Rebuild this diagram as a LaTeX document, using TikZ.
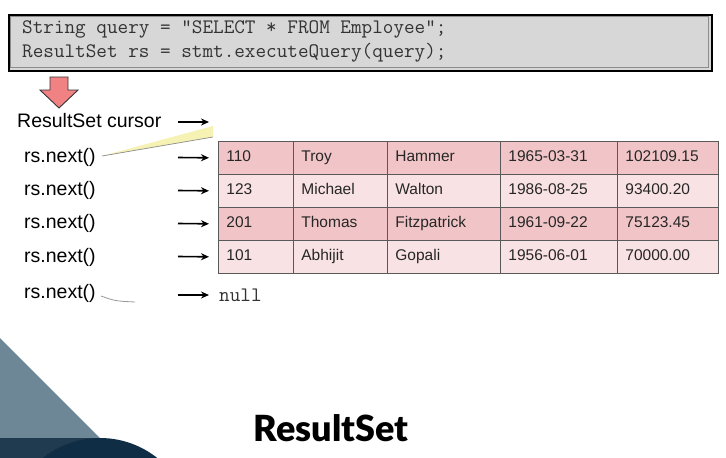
\documentclass[tikz,border=0pt]{standalone}
\usepackage{fontspec}
\setmainfont{Liberation Sans}
\newfontfamily\titlefont{Lato Black}
\usetikzlibrary{arrows.meta}
\definecolor{codegray}{RGB}{214,215,214}
\definecolor{rowA}{RGB}{241,197,199}
\definecolor{rowB}{RGB}{249,226,227}
\definecolor{redarrow}{RGB}{240,130,132}
\definecolor{slate}{RGB}{110,135,150}
\definecolor{navyband}{RGB}{32,58,80}
\definecolor{navy}{RGB}{16,45,70}
\definecolor{wedge}{RGB}{246,242,180}
\tikzset{
  lbl/.style={font=\fontsize{19.5}{22}\selectfont, inner sep=0pt, anchor=west},
  codetxt/.style={font=\ttfamily\fontsize{20.6}{22}\selectfont, inner sep=0pt, anchor=west, text=black!80},
  cell/.style={draw=black!65, line width=0.8pt, inner xsep=8pt, inner ysep=0pt,
    minimum height=33pt, anchor=north west, align=left, text height=11pt, text depth=3.5pt,
    font=\fontsize{15.5}{18}\selectfont, text=black!85},
  arr/.style={line width=1.6pt, -{Stealth[length=8pt,width=7pt]}},
}
\begin{document}
\begin{tikzpicture}[x=1pt,y=-1pt]
\useasboundingbox (0,0) rectangle (726,458);
\fill[white] (0,0) rectangle (726,458);
% background decoration
\fill[slate] (0,338) -- (100,438) -- (0,438) -- cycle;
\fill[navyband] (0,438) rectangle (100,458);
\begin{scope}
\clip (0,0) rectangle (726,458);
\fill[navy] (100,530) circle[radius=92];
\end{scope}
% code box
\node[draw=black, line width=2.2pt, fill=codegray, minimum width=703pt, minimum height=56pt,
  anchor=north west, inner sep=0pt] (codebox) at (8,14) {};
\draw[black!45, line width=0.6pt] (10.5,16.5) rectangle (708.5,67.5);
\node[codetxt] (q1) at (22,29) {String query = "SELECT * FROM Employee";};
\node[codetxt] (q2) at (22,53) {ResultSet rs = stmt.executeQuery(query);};
% red down arrow
\draw[fill=redarrow, draw=black!80, line width=0.9pt, line join=miter]
  (50,77) -- (68,77) -- (68,90) -- (78,90) -- (59,108) -- (40,90) -- (50,90) -- cycle;
% labels
\node[lbl] (cur) at (17,121) {ResultSet cursor};
\node[lbl] (n1) at (24,157) {rs.next()};
\node[lbl] (n2) at (24,190) {rs.next()};
\node[lbl] (n3) at (24,223) {rs.next()};
\node[lbl] (n4) at (24,257) {rs.next()};
\node[lbl] (n5) at (24,293) {rs.next()};
% callout wedge
\fill[wedge] (102,156) -- (213,126) -- (213,137) -- cycle;
\draw[black!45, line width=0.7pt] (102,156) -- (213,137);
\draw[black!40, line width=0.8pt] (101,296) .. controls (115,301) .. (135,302);
% table
\foreach \r/\ya/\fc/\ta/\tb/\tc/\td/\te in {
  1/141/rowA/110/Troy/Hammer/1965-03-31/102109.15,
  2/174/rowB/123/Michael/Walton/1986-08-25/93400.20,
  3/207/rowA/201/Thomas/Fitzpatrick/1961-09-22/75123.45,
  4/240/rowB/101/Abhijit/Gopali/1956-06-01/70000.00}{
  \node[cell, fill=\fc, text width=59pt] (c\r-1) at (218,\ya) {\ta};
  \node[cell, fill=\fc, text width=78pt] (c\r-2) at (293,\ya) {\tb};
  \node[cell, fill=\fc, text width=97pt] (c\r-3) at (387,\ya) {\tc};
  \node[cell, fill=\fc, text width=101pt] (c\r-4) at (500,\ya) {\td};
  \node[cell, fill=\fc, text width=85pt] (c\r-5) at (617,\ya) {\te};
}
% null
\node[codetxt] (null) at (219,295) {null};
% arrows
\coordinate (s0) at (178,122);
\coordinate (e0) at (209,122);
\draw[arr] (s0) -- (e0);
\coordinate (s1) at (178,157.5);
\coordinate (s2) at (178,190.5);
\coordinate (s3) at (178,223.5);
\coordinate (s4) at (178,256.5);
\draw[arr, shorten >=9pt] (s1) -- (c1-1.west);
\draw[arr, shorten >=9pt] (s2) -- (c2-1.west);
\draw[arr, shorten >=9pt] (s3) -- (c3-1.west);
\draw[arr, shorten >=9pt] (s4) -- (c4-1.west);
\coordinate (s5) at (178,295);
\draw[arr, shorten >=10pt] (s5) -- (null.west);
% title
\node[inner sep=0pt, font=\titlefont\fontsize{36}{40}\selectfont] (title) at (331,428) {ResultSet};
\end{tikzpicture}
\end{document}
